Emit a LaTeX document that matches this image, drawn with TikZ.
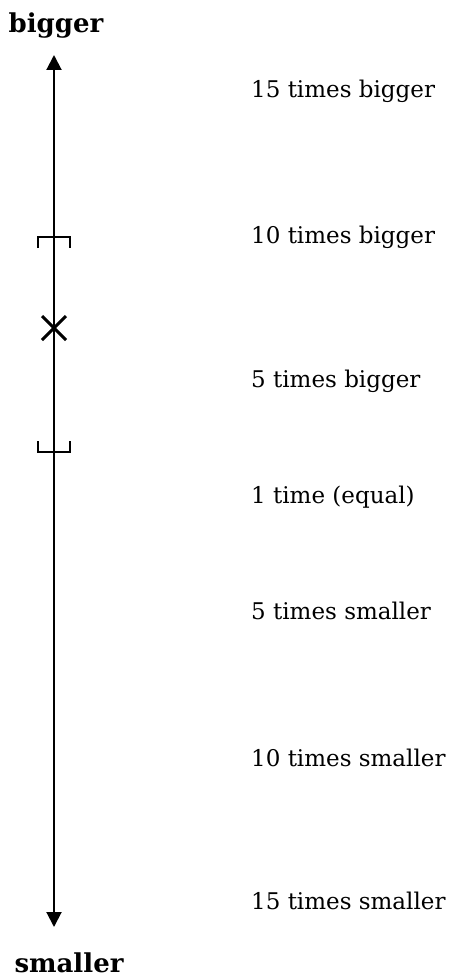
\documentclass[tikz,border=0pt]{standalone}
\usepackage{fontspec}
\setmainfont{DejaVu Serif}
\usetikzlibrary{arrows.meta}
\tikzset{
  scalelabel/.style={anchor=base west,inner sep=0pt,font=\fontsize{23}{28}\selectfont},
  endlabel/.style={anchor=base,inner sep=0pt,font=\fontsize{26}{31}\selectfont\bfseries},
  mark line/.style={line width=1.5pt}
}
\begin{document}
\begin{tikzpicture}[x=1pt,y=-1pt]
\useasboundingbox (0,0) rectangle (458,979);
\node[endlabel] (big) at (56,33) {bigger};
\node[endlabel] (small) at (69,972) {smaller};
\coordinate (top) at (54,55);
\coordinate (bot) at (54,927);
\draw[line width=2pt,{Triangle[length=15pt,width=15pt]}-{Triangle[length=15pt,width=15pt]}] (top) -- (bot);
% range brackets and the estimate
\draw[mark line] (38,248) -- (38,237) -- (70,237) -- (70,248);
\draw[mark line] (38,441) -- (38,452) -- (70,452) -- (70,441);
\draw[line width=3pt] (42,316) -- (66,340) (42,340) -- (66,316);
\foreach \t/\y [count=\i] in {15 times bigger/98,10 times bigger/243,5 times bigger/387,1 time (equal)/503,5 times smaller/619,10 times smaller/766,15 times smaller/909}
   \node[scalelabel] (lab\i) at (251,\y) {\t};
\end{tikzpicture}
\end{document}
